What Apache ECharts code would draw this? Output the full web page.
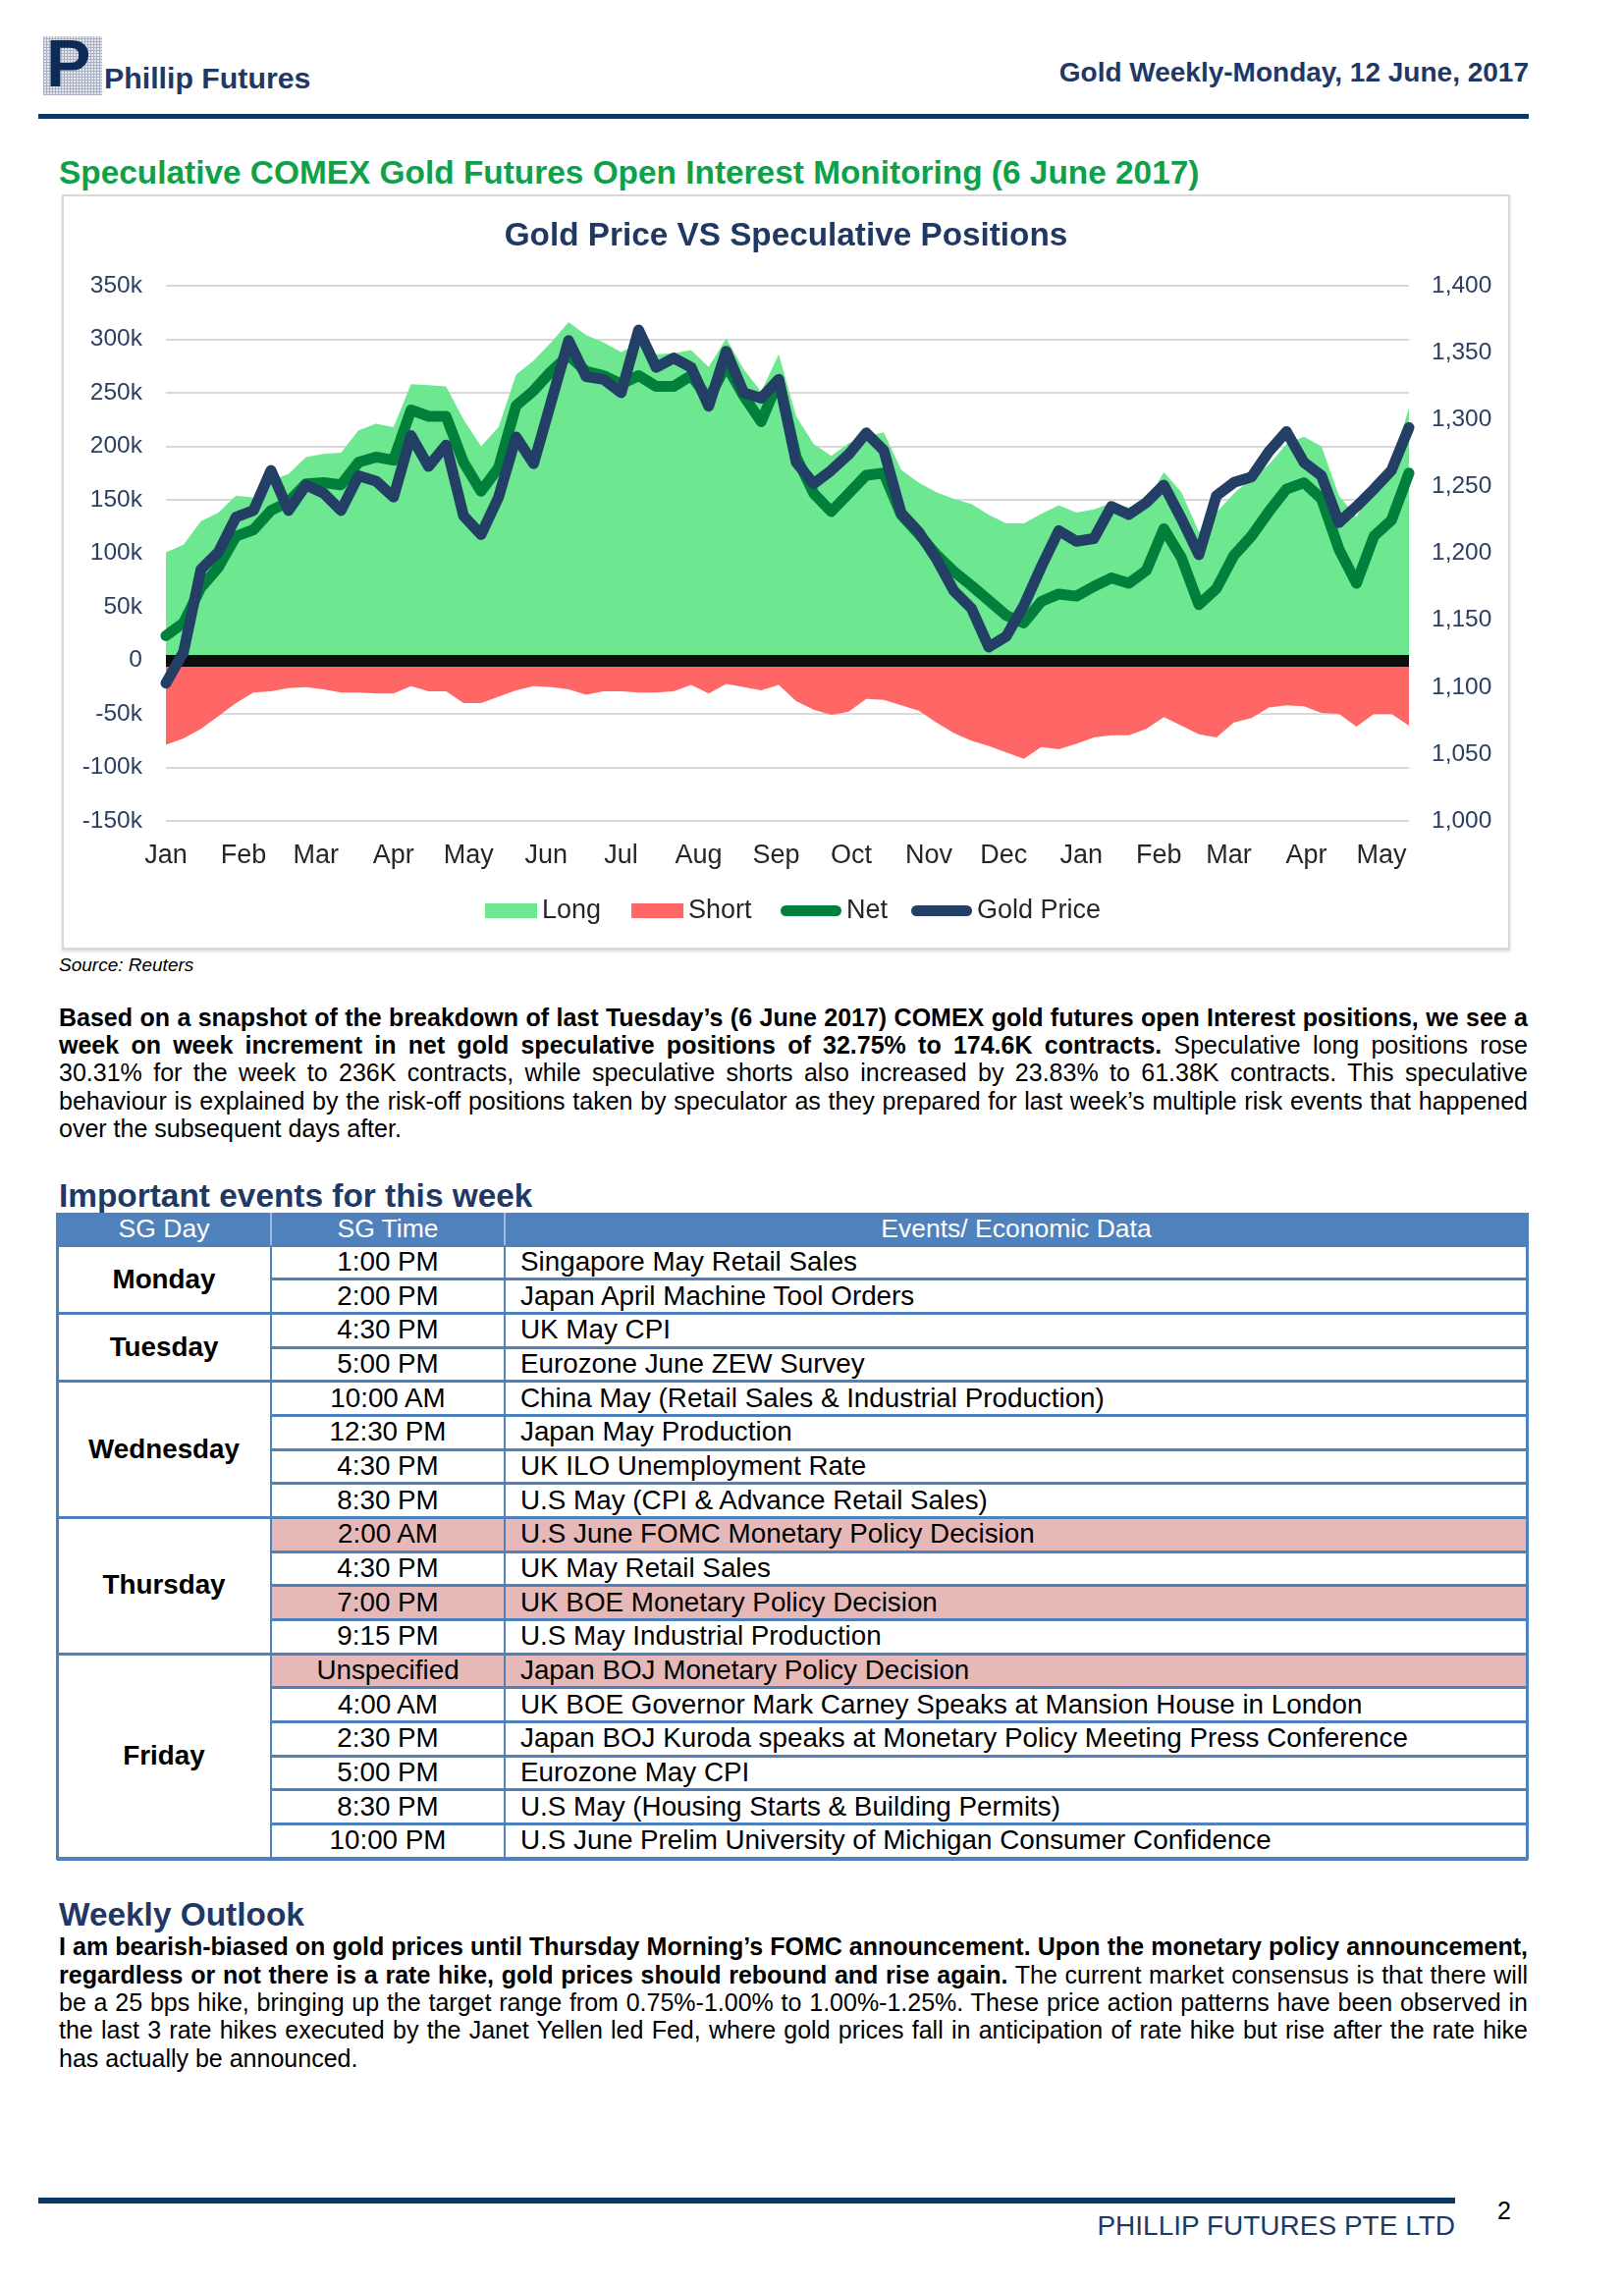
<!DOCTYPE html>
<html>
<head>
<meta charset="utf-8">
<script src="https://cdn.jsdelivr.net/npm/echarts@6/dist/echarts.min.js"></script>
<style>
html,body{margin:0;padding:0;background:#fff;}
body{width:1654px;height:2327px;position:relative;overflow:hidden;font-family:'Liberation Sans',Arial,sans-serif;color:#000;}
.abs{position:absolute;white-space:nowrap;}
.pl{position:absolute;left:60px;width:1496px;font-size:25px;line-height:28.4px;height:28.4px;text-align:justify;text-align-last:justify;}
.pl.last{text-align:left;text-align-last:left;}
.h2{position:absolute;left:60px;font-size:33.4px;line-height:33px;font-weight:bold;color:#1F3864;white-space:nowrap;}
.cell{position:absolute;white-space:nowrap;font-size:27.8px;}
</style>
</head>
<body>

<!-- header -->
<div class="abs" style="left:44px;top:37px;width:60px;height:60px;background-color:#e4e7ee;background-image:repeating-linear-gradient(0deg,#a9b1c2 0 1px,transparent 1px 3px),repeating-linear-gradient(90deg,#a9b1c2 0 1px,transparent 1px 3px);"></div>
<div class="abs" style="left:47px;top:30px;font-size:68px;line-height:68px;font-weight:bold;color:#0E2A57;">P</div>
<div class="abs" style="left:106px;top:65px;font-size:30.3px;line-height:30px;font-weight:bold;color:#1F3864;">Phillip Futures</div>
<div class="abs" style="right:97px;top:60px;font-size:28px;line-height:28px;font-weight:bold;color:#1F3864;">Gold Weekly-Monday, 12 June, 2017</div>
<div class="abs" style="left:39px;top:116px;width:1518px;height:5px;background:#0B3764;"></div>

<!-- section heading -->
<div class="h2" style="top:159px;color:#0FA14A;">Speculative COMEX Gold Futures Open Interest Monitoring (6 June 2017)</div>

<!-- chart box -->
<div class="abs" style="left:63px;top:198px;width:1475px;height:769px;box-sizing:border-box;border:2px solid #d9d9d9;box-shadow:0 2px 3px rgba(0,0,0,0.15);"></div>
<div id="chart" class="abs" style="left:63px;top:198px;width:1475px;height:769px;"></div>
<div class="abs" style="left:60px;top:973px;font-size:19px;line-height:19px;font-style:italic;">Source: Reuters</div>

<!-- paragraph 1 -->
<div class="pl" style="top:1021.7px;"><b>Based on a snapshot of the breakdown of last Tuesday’s (6 June 2017) COMEX gold futures open Interest positions, we see a</b></div>
<div class="pl" style="top:1050px;"><b>week on week increment in net gold speculative positions of 32.75% to 174.6K contracts.</b> Speculative long positions rose</div>
<div class="pl" style="top:1078.4px;">30.31% for the week to 236K contracts, while speculative shorts also increased by 23.83% to 61.38K contracts. This speculative</div>
<div class="pl" style="top:1106.7px;">behaviour is explained by the risk-off positions taken by speculator as they prepared for last week’s multiple risk events that happened</div>
<div class="pl last" style="top:1135px;">over the subsequent days after.</div>

<!-- events -->
<div class="h2" style="top:1201px;">Important events for this week</div>
<div id="table"></div>

<!-- weekly outlook -->
<div class="h2" style="top:1933px;">Weekly Outlook</div>
<div class="pl" style="top:1968.3px;"><b>I am bearish-biased on gold prices until Thursday Morning’s FOMC announcement. Upon the monetary policy announcement,</b></div>
<div class="pl" style="top:1996.6px;"><b>regardless or not there is a rate hike, gold prices should rebound and rise again.</b> The current market consensus is that there will</div>
<div class="pl" style="top:2025px;">be a 25 bps hike, bringing up the target range from 0.75%-1.00% to 1.00%-1.25%. These price action patterns have been observed in</div>
<div class="pl" style="top:2053.3px;">the last 3 rate hikes executed by the Janet Yellen led Fed, where gold prices fall in anticipation of rate hike but rise after the rate hike</div>
<div class="pl last" style="top:2081.6px;">has actually be announced.</div>

<!-- footer -->
<div class="abs" style="left:39px;top:2238px;width:1443px;height:6px;background:#0B3764;"></div>
<div class="abs" style="right:172px;top:2253px;font-size:28px;line-height:28px;color:#1F3864;">PHILLIP FUTURES PTE LTD</div>
<div class="abs" style="left:1525px;top:2239px;font-size:25px;line-height:25px;font-family:'Liberation Sans Narrow','Liberation Sans',Arial,sans-serif;">2</div>

<script>
// ---------------- chart data ----------------
const weeks = ['2016-01-26','2016-02-02','2016-02-09','2016-02-16','2016-02-23','2016-03-01','2016-03-08','2016-03-15','2016-03-22','2016-03-29',
'2016-04-05','2016-04-12','2016-04-19','2016-04-26','2016-05-03','2016-05-10','2016-05-17','2016-05-24','2016-05-31','2016-06-07',
'2016-06-14','2016-06-21','2016-06-28','2016-07-05','2016-07-12','2016-07-19','2016-07-26','2016-08-02','2016-08-09','2016-08-16',
'2016-08-23','2016-08-30','2016-09-06','2016-09-13','2016-09-20','2016-09-27','2016-10-04','2016-10-11','2016-10-18','2016-10-25',
'2016-11-01','2016-11-08','2016-11-15','2016-11-22','2016-11-29','2016-12-06','2016-12-13','2016-12-20','2016-12-27','2017-01-03',
'2017-01-10','2017-01-17','2017-01-24','2017-01-31','2017-02-07','2017-02-14','2017-02-21','2017-02-28','2017-03-07','2017-03-14',
'2017-03-21','2017-03-28','2017-04-04','2017-04-11','2017-04-18','2017-04-25','2017-05-02','2017-05-09','2017-05-16','2017-05-23',
'2017-05-30','2017-06-06'];

// thousands of contracts
const longPos = [101,108,130,138,154,152,168,174,190,193,
194,215,221,218,258,257,256,225,200,218,
267,280,297,316,304,297,288,296,286,287,
290,274,301,272,251,286,228,202,191,203,
209,213,178,166,157,151,146,136,128,128,
137,145,138,141,147,143,148,176,157,120,
138,156,170,183,202,209,200,154,134,166,
181,236];

const shortPos = [-79,-73,-64,-52,-40,-30,-29,-26,-25,-27,
-30,-30,-31,-31,-24,-29,-29,-40,-40,-34,
-28,-24,-25,-27,-32,-29,-29,-30,-30,-29,
-23,-31,-22,-25,-28,-23,-38,-46,-51,-48,
-36,-37,-42,-47,-58,-68,-75,-80,-86,-92,
-81,-83,-78,-72,-70,-70,-64,-53,-61,-69,
-72,-58,-54,-44,-42,-43,-49,-50,-62,-50,
-50,-61];

const netPos = [23,35,68,87,116,122,140,148,165,166,
164,185,190,187,234,228,228,185,158,180,
238,252,270,285,270,266,258,266,256,256,
266,244,276,247,223,262,190,156,139,156,
173,175,136,118,99,83,70,56,42,35,
55,62,60,69,77,72,84,123,96,52,
67,98,116,139,160,166,151,104,72,116,
131,175];

const goldPrice = [1103,1126,1188,1201,1227,1232,1262,1232,1251,1245,
1232,1258,1254,1242,1288,1265,1281,1228,1214,1242,
1287,1267,1313,1359,1332,1330,1320,1367,1339,1346,
1339,1310,1351,1320,1316,1330,1268,1252,1262,1274,
1290,1277,1230,1216,1196,1172,1159,1130,1138,1161,
1190,1217,1209,1211,1235,1229,1238,1251,1226,1199,
1243,1253,1257,1276,1291,1268,1258,1223,1235,1248,
1262,1294];

const tickDates = ['2016-01-26','2016-02-26','2016-03-26','2016-04-26','2016-05-26','2016-06-26','2016-07-26','2016-08-26','2016-09-26',
'2016-10-26','2016-11-26','2016-12-26','2017-01-26','2017-02-26','2017-03-26','2017-04-26','2017-05-26'];
const tickLabels = ['Jan','Feb','Mar','Apr','May','Jun','Jul','Aug','Sep','Oct','Nov','Dec','Jan','Feb','Mar','Apr','May'];

const seriesNames = ['Long','Short','Net','Gold Price'];

// ---------------- table data ----------------
const dayGroups = [['Monday',2],['Tuesday',2],['Wednesday',4],['Thursday',4],['Friday',6]];
const eventTimes = ['1:00 PM','2:00 PM','4:30 PM','5:00 PM','10:00 AM','12:30 PM','4:30 PM','8:30 PM','2:00 AM','4:30 PM','7:00 PM','9:15 PM',
'Unspecified','4:00 AM','2:30 PM','5:00 PM','8:30 PM','10:00 PM'];
const eventNames = ['Singapore May Retail Sales','Japan April Machine Tool Orders','UK May CPI','Eurozone June ZEW Survey',
'China May (Retail Sales & Industrial Production)','Japan May Production','UK ILO Unemployment Rate','U.S May (CPI & Advance Retail Sales)',
'U.S June FOMC Monetary Policy Decision','UK May Retail Sales','UK BOE Monetary Policy Decision','U.S May Industrial Production',
'Japan BOJ Monetary Policy Decision','UK BOE Governor Mark Carney Speaks at Mansion House in London',
'Japan BOJ Kuroda speaks at Monetary Policy Meeting Press Conference','Eurozone May CPI','U.S May (Housing Starts & Building Permits)',
'U.S June Prelim University of Michigan Consumer Confidence'];
const highlighted = [8,10,12];

// ---------------- build table ----------------
(function(){
  const T = document.getElementById('table');
  const L = 58, C1 = 276, C2 = 514, R = 1556, HT = 1235, HB = 1268, RH = 34.67, N = eventTimes.length;
  const BLUE = '#4F81BD';
  function box(x,y,w,h,bg){const d=document.createElement('div');d.className='abs';d.style.cssText=`left:${x}px;top:${y}px;width:${w}px;height:${h}px;background:${bg};`;T.appendChild(d);}
  function txt(x,y,w,h,s,align,extra){const d=document.createElement('div');d.className='cell';
    d.style.cssText=`left:${x}px;top:${y}px;width:${w}px;height:${h}px;line-height:${h}px;text-align:${align};${extra||''}`;d.textContent=s;T.appendChild(d);}
  box(L,HT,R-L,HB-HT,BLUE);
  highlighted.forEach(r=>box(C1,HB+r*RH,R-C1,RH,'#E6B9B8'));
  const starts = []; let acc = 0; dayGroups.forEach(g=>{starts.push(acc); acc+=g[1];});
  for(let b=1;b<N;b++){
    const y = HB + b*RH;
    const full = starts.includes(b);
    box(full?L:C1, y-1.5, (full?R-L:R-C1), 3, BLUE);
  }
  box(L, HB-1.5, R-L, 3, BLUE);
  box(L, HB+N*RH-1.5, R-L, 4, BLUE);
  box(L-1, HT, 3, HB+N*RH-HT+2, BLUE);
  box(R-2, HT, 3, HB+N*RH-HT+2, BLUE);
  box(C1-1, HB, 2, N*RH, BLUE);
  box(C2-1, HB, 2, N*RH, BLUE);
  box(C1-1, HT, 2, HB-HT, '#9DB9DE');
  box(C2-1, HT, 2, HB-HT, '#9DB9DE');
  txt(L,HT,C1-L,HB-HT,'SG Day','center','color:#fff;font-size:26.5px;');
  txt(C1,HT,C2-C1,HB-HT,'SG Time','center','color:#fff;font-size:26.5px;');
  txt(C2,HT,R-C2,HB-HT,'Events/ Economic Data','center','color:#fff;font-size:26.5px;');
  for(let r=0;r<N;r++){
    const y = HB + r*RH;
    txt(C1,y,C2-C1,RH,eventTimes[r],'center');
    txt(C2+16,y,R-C2-16,RH,eventNames[r],'left');
  }
  dayGroups.forEach((g,k)=>{
    const y = HB + starts[k]*RH;
    txt(L,y,C1-L,g[1]*RH,g[0],'center','font-weight:bold;');
  });
})();

// ---------------- chart ----------------
const FONT = "'Liberation Sans', Arial, sans-serif";
const C_LONG = '#6DE890', C_SHORT = '#FF6666', C_NET = '#00803A', C_GOLD = '#243F66', C_AXIS = '#2B3F63';
function dayOf(s){const p=s.split('-').map(Number);return Math.round((Date.UTC(p[0],p[1]-1,p[2])-Date.UTC(2016,0,26))/86400000);}
const tickDays = tickDates.map(dayOf);
const maxDay = dayOf(weeks[weeks.length-1]);
function pts(arr){return weeks.map((w,i)=>[dayOf(w),arr[i]]);}
const LINE_ICON = 'path://M5.5,0 L56.5,0 A5.5,5.5 0 0 1 56.5,11 L5.5,11 A5.5,5.5 0 0 1 5.5,0 Z';

const chart = echarts.init(document.getElementById('chart'), null, {renderer:'canvas'});
const legendText = {fontFamily:FONT, fontSize:27, color:'#262626', lineHeight:27};
chart.setOption({
  animation:false,
  title:{text:'Gold Price VS Speculative Positions', left:'center', top:26, padding:0,
    textStyle:{fontFamily:FONT, fontSize:33.3, fontWeight:'bold', color:'#203864', lineHeight:33}},
  legend:[
    {data:[{name:seriesNames[0], icon:'rect', itemStyle:{color:C_LONG, borderWidth:0}},{name:seriesNames[1], icon:'rect', itemStyle:{color:C_SHORT, borderWidth:0}}],
     left:431, top:716, padding:0, itemWidth:53, itemHeight:15, itemGap:31, textStyle:legendText, selectedMode:false},
    {data:[{name:seriesNames[2], icon:LINE_ICON, itemStyle:{color:C_NET, borderWidth:0}},{name:seriesNames[3], icon:LINE_ICON, itemStyle:{color:C_GOLD, borderWidth:0}}],
     left:732, top:716, padding:0, itemWidth:62, itemHeight:11, itemGap:24, textStyle:legendText, selectedMode:false}
  ],
  grid:{left:106, right:103, top:93, bottom:131},
  xAxis:{type:'value', min:0, max:maxDay,
    axisLine:{show:false}, axisTick:{show:false}, splitLine:{show:false},
    axisLabel:{customValues:tickDays, formatter:(v)=>{const k=tickDays.indexOf(Math.round(v));return k>=0?tickLabels[k]:'';},
      fontFamily:FONT, fontSize:27, lineHeight:27, margin:22, color:'#262626'}},
  yAxis:[
    {type:'value', min:-150, max:350, interval:50, position:'left',
     axisLine:{show:false}, axisTick:{show:false},
     splitLine:{lineStyle:{color:'#d9d9d9', width:2}},
     axisLabel:{formatter:(v)=>v===0?'0':v+'k', fontFamily:FONT, fontSize:24.5, margin:24, color:C_AXIS}},
    {type:'value', min:1000, max:1400, interval:50, position:'right',
     axisLine:{show:false}, axisTick:{show:false}, splitLine:{show:false},
     axisLabel:{formatter:(v)=>v.toLocaleString('en-US'), fontFamily:FONT, fontSize:24.5, margin:23, color:C_AXIS}}
  ],
  series:[
    {name:seriesNames[0], type:'line', data:pts(longPos), symbol:'none', z:2,
     itemStyle:{color:C_LONG}, lineStyle:{width:0, opacity:0}, areaStyle:{color:C_LONG, opacity:1}},
    {name:seriesNames[1], type:'line', data:pts(shortPos), symbol:'none', z:2,
     itemStyle:{color:C_SHORT}, lineStyle:{width:0, opacity:0}, areaStyle:{color:C_SHORT, opacity:1},
     markLine:{silent:true, symbol:['none','none'], label:{show:false}, emphasis:{disabled:true},
       lineStyle:{color:'#0d0d0d', width:12, type:'solid'}, data:[{yAxis:0}]}},
    {name:seriesNames[2], type:'line', data:pts(netPos), symbol:'none', z:10,
     itemStyle:{color:C_NET}, lineStyle:{color:C_NET, width:11, cap:'round', join:'round'}},
    {name:seriesNames[3], type:'line', yAxisIndex:1, data:pts(goldPrice), symbol:'none', z:11,
     itemStyle:{color:C_GOLD}, lineStyle:{color:C_GOLD, width:11, cap:'round', join:'round'}}
  ]
});
</script>
</body>
</html>
